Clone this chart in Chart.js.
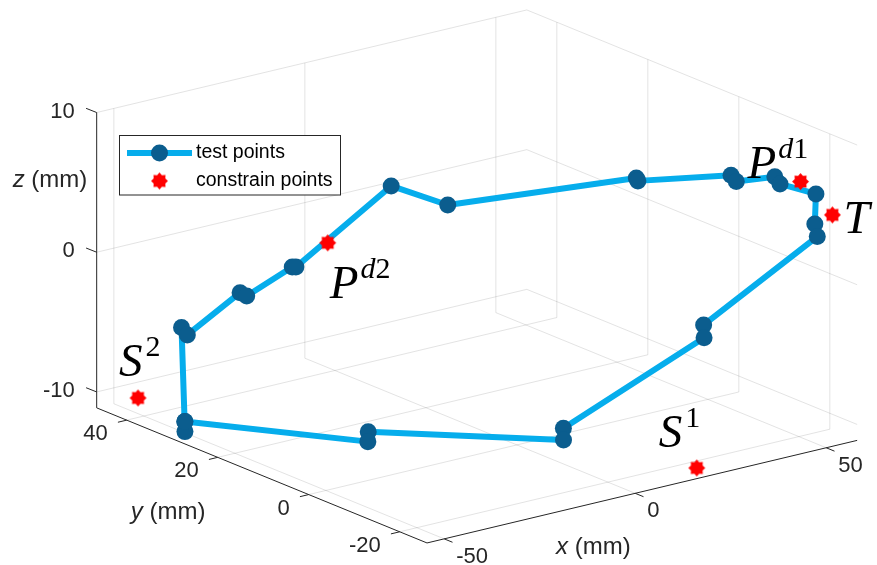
<!DOCTYPE html>
<html>
<head>
<meta charset="utf-8">
<script src="https://cdn.jsdelivr.net/npm/chart.js@4.4.0/dist/chart.umd.min.js"></script>
<style>
  html, body { margin: 0; padding: 0; background: #fff; }
  #wrap { width: 877px; height: 565px; }
</style>
</head>
<body>
<div id="wrap"><canvas id="plot" width="877" height="565"></canvas></div>
<script>
// test points (mm), in the order they were measured
const testX = [-51.9, -52.0, -52.3, -51.5, -41.5, -40.6, -33.8, -33.2, -12.9, -5.6, 36.5, 35.6, 47.6,
               46.0, 54.3, 52.2, 54.1, 53.1, 52.9, 33.4, 32.8, 8.0, 7.8, -25.7, -25.8];
const testY = [29.4, 29.3, 29.8, 29.2, 26.0, 25.3, 21.0, 20.7, 16.8, 10.5, 4.4, 3.3, -7.1,
               -9.6, -11.1, -14.0, -20.3, -20.9, -21.6, -13.0, -13.6, -3.5, -3.7, 11.1, 11.1];
const testZ = [-10.0, -10.7, -3.3, -3.8, -1.0, -1.2, 1.0, 1.0, 6.0, 5.0, 5.0, 5.0, 6.0,
               6.0, 6.0, 6.0, 6.0, 4.0, 3.2, -3.0, -3.8, -10.0, -10.8, -10.0, -10.7];

// constrain points
const consNames = ['S1', 'S2', 'Pd2', 'Pd1', 'T'];
const consX = [18.5, -50.1, -23.8, 50.9, 54.0];
const consY = [-24.0, 41.2, 21.6, -19.6, -24.0];
const consZ = [-10.8, -10.0, 2.0, 7.0, 5.0];

// axes
const xLim = [-54.5, 58.1];
const yLim = [-26, 46.6];
const zLim = [-11.14, 10];
const xTicks = [-50, 0, 50];
const yTicks = [-20, 0, 20, 40];
const zTicks = [-10, 0, 10];

// projection of the 3-D view onto the page (pixels per mm)
const view = { ox: 516.9, oy: 289.3, ex: [3.82, -0.911], ey: [-4.55, -1.861], ez: [0, -13.97] };
function proj(x, y, z) {
    return {
        x: view.ox + x * view.ex[0] + y * view.ey[0] + z * view.ez[0],
        y: view.oy + x * view.ex[1] + y * view.ey[1] + z * view.ez[1]
    };
}

const lineBlue = '#06ADEC';
const markerBlue = '#0B5D8E';
const axisColor = '#262626';
const gridColor = 'rgba(38,38,38,0.13)';

function starImage(r, color) {
    const c = document.createElement('canvas');
    const s = Math.ceil(r * 2 + 2);
    c.width = c.height = s;
    const g = c.getContext('2d');
    g.fillStyle = color;
    g.beginPath();
    for (let i = 0; i < 16; i++) {
        const a = Math.PI * i / 8 - Math.PI / 2;
        const rr = i % 2 ? r * 0.74 : r;
        g.lineTo(s / 2 + rr * Math.cos(a), s / 2 + rr * Math.sin(a));
    }
    g.closePath();
    g.fill();
    return c;
}
const star = starImage(8.5, '#FF0000');

const testPts = testX.map((x, i) => proj(x, testY[i], testZ[i]));
testPts.push(testPts[0]); // close the loop
const consPts = consX.map((x, i) => proj(x, consY[i], consZ[i]));

// math labels next to the constrain points: [base, superscript, dx, dy]
const mathLabels = {
    S1: ['S', '1', -38, -21],
    S2: ['S', '2', -19, -22],
    Pd2: ['P', 'd2', 2, 55],
    Pd1: ['P', 'd1', -53, -4],
    T: ['T', '', 11, 18]
};

function drawMath(ctx, x, y, base, sup) {
    ctx.font = 'italic 47px "Liberation Serif", "DejaVu Serif", serif';
    ctx.fillText(base, x, y);
    let sx = x + ctx.measureText(base).width + (base === 'P' ? 2 : 3);
    const sy = y - 20;
    for (const ch of sup) {
        ctx.font = (/[a-z]/.test(ch) ? 'italic ' : '') + '30px "Liberation Serif", "DejaVu Serif", serif';
        ctx.fillText(ch, sx, sy);
        sx += ctx.measureText(ch).width;
    }
}

const box3d = {
    id: 'box3d',
    beforeDatasetsDraw(chart) {
        const ctx = chart.ctx;
        const sx = chart.scales.x, sy = chart.scales.y;
        const P = (x, y, z) => { const p = proj(x, y, z); return [sx.getPixelForValue(p.x), sy.getPixelForValue(p.y)]; };
        const seg = (a, b) => { ctx.beginPath(); ctx.moveTo(a[0], a[1]); ctx.lineTo(b[0], b[1]); ctx.stroke(); };
        const [x0, x1] = xLim, [y0, y1] = yLim, [z0, z1] = zLim;
        ctx.save();
        // grid on back wall, right wall and floor
        ctx.strokeStyle = gridColor;
        ctx.lineWidth = 1;
        xTicks.forEach(t => { seg(P(t, y1, z0), P(t, y1, z1)); seg(P(t, y0, z0), P(t, y1, z0)); });
        yTicks.forEach(t => { seg(P(x1, t, z0), P(x1, t, z1)); seg(P(x0, t, z0), P(x1, t, z0)); });
        zTicks.forEach(t => { seg(P(x0, y1, t), P(x1, y1, t)); seg(P(x1, y0, t), P(x1, y1, t)); });
        // axis lines
        ctx.strokeStyle = axisColor;
        seg(P(x0, y1, z0), P(x0, y1, z1));
        seg(P(x0, y0, z0), P(x0, y1, z0));
        seg(P(x0, y0, z0), P(x1, y0, z0));
        // ticks and labels
        ctx.fillStyle = axisColor;
        ctx.font = '22px "Liberation Sans", Arial, sans-serif';
        ctx.textBaseline = 'middle';
        zTicks.forEach(t => {
            const a = P(x0, y1, t);
            seg(a, [a[0] - 10.6, a[1] - 4.2]);
            ctx.textAlign = 'right';
            ctx.fillText(String(t), a[0] - 22, a[1] - 1);
        });
        yTicks.forEach(t => {
            const a = P(x0, t, z0);
            seg(a, [a[0] - 8.8, a[1] + 2.1]);
            ctx.textAlign = 'right';
            ctx.fillText(String(t), a[0] - 19, a[1] + 14);
        });
        xTicks.forEach(t => {
            const a = P(t, y0, z0);
            seg(a, [a[0] + 8.3, a[1] + 3.4]);
            ctx.textAlign = 'left';
            ctx.fillText(String(t), a[0] + 12, a[1] + 18);
        });
        // axis titles
        ctx.textAlign = 'left';
        const title = (v, x, y) => {
            ctx.font = 'italic 24px "Liberation Sans", Arial, sans-serif';
            ctx.fillText(v, x, y);
            const w = ctx.measureText(v).width;
            ctx.font = '24px "Liberation Sans", Arial, sans-serif';
            ctx.fillText(' (mm)', x + w, y);
        };
        const zc = P(x0, y1, (z0 + z1) / 2);
        title('z', zc[0] - 84, zc[1] - 80);
        const yc = P(x0, (y0 + y1) / 2, z0);
        title('y', yc[0] - 131, yc[1] + 37);
        const xc = P((x0 + x1) / 2, y0, z0);
        title('x', xc[0] - 86, xc[1] + 56);
        ctx.restore();
    },
    afterDatasetsDraw(chart) {
        const ctx = chart.ctx;
        const sx = chart.scales.x, sy = chart.scales.y;
        ctx.save();
        ctx.fillStyle = '#000';
        ctx.textBaseline = 'alphabetic';
        ctx.textAlign = 'left';
        consNames.forEach((n, i) => {
            const m = mathLabels[n];
            const px = sx.getPixelForValue(consPts[i].x), py = sy.getPixelForValue(consPts[i].y);
            drawMath(ctx, px + m[2], py + m[3], m[0], m[1]);
        });
        // legend
        const lx = 119.5, ly = 135.5, lw = 221, lh = 59.5;
        ctx.fillStyle = '#fff';
        ctx.fillRect(lx, ly, lw, lh);
        ctx.strokeStyle = axisColor;
        ctx.lineWidth = 1;
        ctx.strokeRect(lx, ly, lw, lh);
        ctx.strokeStyle = lineBlue;
        ctx.lineWidth = 6;
        ctx.beginPath(); ctx.moveTo(127, 153); ctx.lineTo(192, 153); ctx.stroke();
        ctx.fillStyle = markerBlue;
        ctx.beginPath(); ctx.arc(159.5, 153, 8.5, 0, Math.PI * 2); ctx.fill();
        ctx.drawImage(star, 159.5 - star.width / 2, 181 - star.height / 2);
        ctx.fillStyle = '#000';
        ctx.font = '19.5px "Liberation Sans", Arial, sans-serif';
        ctx.textBaseline = 'middle';
        ctx.fillText('test points', 196, 153);
        ctx.fillText('constrain points', 196, 181);
        ctx.restore();
    }
};

new Chart(document.getElementById('plot'), {
    type: 'scatter',
    data: {
        datasets: [{
            label: 'test points',
            data: testPts,
            showLine: true,
            borderColor: lineBlue,
            borderWidth: 6,
            borderJoinStyle: 'round',
            borderCapStyle: 'round',
            pointRadius: 8.5,
            pointHoverRadius: 8.5,
            pointBackgroundColor: markerBlue,
            pointBorderWidth: 0,
            clip: false,
            order: 2
        }, {
            label: 'constrain points',
            data: consPts,
            showLine: false,
            pointStyle: star,
            pointRadius: 8.5,
            clip: false,
            order: 1
        }]
    },
    options: {
        responsive: false,
        animation: false,
        devicePixelRatio: 1,
        events: [],
        layout: { padding: 0, autoPadding: false },
        scales: {
            x: { type: 'linear', min: 0, max: 877, display: false },
            y: { type: 'linear', min: 0, max: 565, reverse: true, display: false }
        },
        plugins: { legend: { display: false }, tooltip: { enabled: false } }
    },
    plugins: [box3d]
});
</script>
</body>
</html>
